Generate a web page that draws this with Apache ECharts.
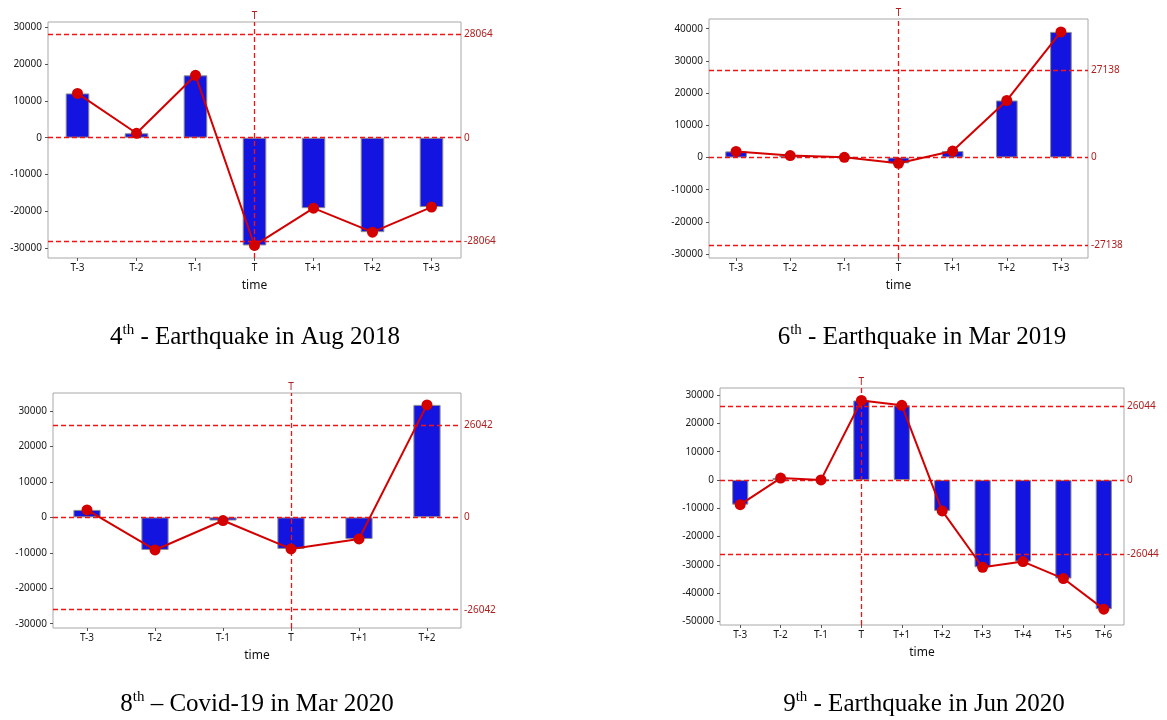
<!DOCTYPE html>
<html>
<head>
<meta charset="utf-8">
<title>Event windows</title>
<script src="https://cdn.jsdelivr.net/npm/echarts@6/dist/echarts.min.js"></script>
<style>
  html, body { margin: 0; padding: 0; background: #ffffff; }
  #chart { width: 1167px; height: 720px; }
</style>
</head>
<body>
<div id="chart"></div>
<script>
// ---- data: change per event window ----
const catsA = ['T-3', 'T-2', 'T-1', 'T', 'T+1', 'T+2', 'T+3'];
const valuesAug2018 = [12000, 1200, 16900, -29200, -19100, -25600, -18800];
const limitAug2018 = 28064;
const ticksAug2018 = [-30000, -20000, -10000, 0, 10000, 20000, 30000];

const valuesMar2019 = [1900, 600, 50, -1800, 2000, 17700, 39000];
const limitMar2019 = 27138;
const ticksMar2019 = [-30000, -20000, -10000, 0, 10000, 20000, 30000, 40000];

const catsB = ['T-3', 'T-2', 'T-1', 'T', 'T+1', 'T+2'];
const valuesMar2020 = [2100, -9200, -900, -8900, -6100, 31700];
const limitMar2020 = 26042;
const ticksMar2020 = [-30000, -20000, -10000, 0, 10000, 20000, 30000];

const catsC = ['T-3', 'T-2', 'T-1', 'T', 'T+1', 'T+2', 'T+3', 'T+4', 'T+5', 'T+6'];
const valuesJun2020 = [-8700, 700, 50, 28100, 26400, -10900, -30800, -28800, -34800, -45600];
const limitJun2020 = 26044;
const ticksJun2020 = [-50000, -40000, -30000, -20000, -10000, 0, 10000, 20000, 30000];

const eventMark = 'T';
const captionNums = ['4', '6', '8', '9'];
const captionTexts = [
  ' - Earthquake in Aug 2018',
  ' - Earthquake in Mar 2019',
  ' \u2013 Covid-19 in Mar 2020',
  ' - Earthquake in Jun 2020'
];

// ---- layout & style ----
const FONT = 'Noto Sans';
const BAR_BLUE = '#1414e0';
const LINE_RED = '#d40000';
const REF_RED = '#f01414';
const LABEL_RED = '#b01e1e';

const panels = [
  { cats: catsA, values: valuesAug2018, limit: limitAug2018, ticks: ticksAug2018,
    grid: { left: 48, top: 22, width: 413, height: 236 }, yMin: -32600, yMax: 31350 },
  { cats: catsA, values: valuesMar2019, limit: limitMar2019, ticks: ticksMar2019,
    grid: { left: 709, top: 19, width: 379, height: 239 }, yMin: -31200, yMax: 43000 },
  { cats: catsB, values: valuesMar2020, limit: limitMar2020, ticks: ticksMar2020,
    grid: { left: 53, top: 393, width: 408, height: 235 }, yMin: -31200, yMax: 35050 },
  { cats: catsC, values: valuesJun2020, limit: limitJun2020, ticks: ticksJun2020,
    grid: { left: 720, top: 388, width: 404, height: 237 }, yMin: -51200, yMax: 32500 }
];

const captionPos = [
  { x: 255, y: 323 },
  { x: 922, y: 323 },
  { x: 257, y: 690 },
  { x: 924, y: 690 }
];

const grids = [], xAxes = [], yAxes = [], series = [], titles = [];

panels.forEach((p, i) => {
  grids.push(Object.assign({
    show: true, borderColor: '#a8a8a8', borderWidth: 1, backgroundColor: 'transparent'
  }, p.grid));

  xAxes.push({
    type: 'category', gridIndex: i, data: p.cats,
    name: 'time', nameLocation: 'middle', nameGap: 22,
    nameTextStyle: { fontFamily: FONT, fontSize: 12, color: '#111' },
    axisLine: { show: false, onZero: false },
    axisTick: { show: true, alignWithLabel: true, length: 3, lineStyle: { color: '#555' } },
    axisLabel: { fontFamily: FONT, fontSize: 10, color: '#1a1a1a', margin: 5 },
    splitLine: { show: false }
  });

  yAxes.push({
    type: 'value', gridIndex: i, min: p.yMin, max: p.yMax,
    axisLine: { show: false },
    axisTick: { show: true, length: 3, lineStyle: { color: '#555' }, customValues: p.ticks },
    axisLabel: {
      fontFamily: FONT, fontSize: 10, color: '#1a1a1a', margin: 6, customValues: p.ticks,
      formatter: (v) => String(v)
    },
    splitLine: { show: false }
  });

  const hLabel = (v) => ({
    show: true, position: 'end', distance: 3, formatter: String(v),
    fontFamily: FONT, fontSize: 10, color: LABEL_RED
  });

  series.push({
    type: 'bar', xAxisIndex: i, yAxisIndex: i, data: p.values,
    barWidth: '40%',
    itemStyle: { color: BAR_BLUE, borderColor: '#8c8c8c', borderWidth: 1 },
    z: 2,
    markLine: {
      silent: true, symbol: 'none', animation: false, precision: 0,
      lineStyle: { color: REF_RED, type: [5, 3], width: 1.3, opacity: 1 },
      data: [
        { yAxis: p.limit, label: hLabel(p.limit) },
        { yAxis: 0, label: hLabel(0) },
        { yAxis: -p.limit, label: hLabel(-p.limit) },
        { xAxis: eventMark, label: {
            show: true, position: 'end', distance: 1, formatter: eventMark,
            fontFamily: FONT, fontSize: 10, color: LABEL_RED } }
      ]
    }
  });

  series.push({
    type: 'line', xAxisIndex: i, yAxisIndex: i, data: p.values,
    symbol: 'circle', symbolSize: 11, z: 5,
    lineStyle: { color: LINE_RED, width: 2 },
    itemStyle: { color: LINE_RED }
  });

  titles.push({
    text: '{m|' + captionNums[i] + '}{s|th}{m|' + captionTexts[i] + '}',
    left: captionPos[i].x, top: captionPos[i].y, textAlign: 'center', padding: 0,
    textStyle: {
      fontFamily: 'Liberation Serif', fontWeight: 'normal', color: '#000',
      rich: {
        m: { fontFamily: 'Liberation Serif', fontSize: 25, lineHeight: 28, color: '#000' },
        s: { fontFamily: 'Liberation Serif', fontSize: 15, lineHeight: 14, verticalAlign: 'top', color: '#000' }
      }
    }
  });
});

const chart = echarts.init(document.getElementById('chart'), null, { renderer: 'canvas' });
chart.setOption({
  animation: false,
  backgroundColor: '#ffffff',
  title: titles,
  grid: grids,
  xAxis: xAxes,
  yAxis: yAxes,
  series: series
});
</script>
</body>
</html>
